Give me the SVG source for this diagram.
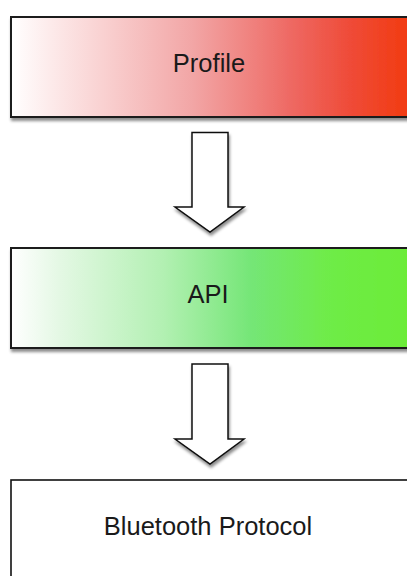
<svg xmlns="http://www.w3.org/2000/svg" width="407" height="576" viewBox="0 0 407 576">
  <defs>
    <linearGradient id="gRed" x1="0" y1="0" x2="1" y2="0">
      <stop offset="0" stop-color="#ffffff"/>
      <stop offset="0.1" stop-color="#fdeaea"/>
      <stop offset="0.45" stop-color="#f2a6a6"/>
      <stop offset="0.7" stop-color="#ee6862"/>
      <stop offset="0.85" stop-color="#ef4a36"/>
      <stop offset="1" stop-color="#f23a0e"/>
    </linearGradient>
    <linearGradient id="gGreen" x1="0" y1="0" x2="1" y2="0">
      <stop offset="0" stop-color="#ffffff"/>
      <stop offset="0.12" stop-color="#e4f8e4"/>
      <stop offset="0.38" stop-color="#b2f0b2"/>
      <stop offset="0.6" stop-color="#74e676"/>
      <stop offset="0.8" stop-color="#6eec46"/>
      <stop offset="1" stop-color="#6cec38"/>
    </linearGradient>
    <filter id="shadow" x="-10%" y="-20%" width="130%" height="150%">
      <feDropShadow dx="1" dy="3" stdDeviation="1.8" flood-color="#000" flood-opacity="0.45"/>
    </filter>
  </defs>
  <style>
    .box { stroke: #1a1a1a; stroke-width: 2; }
    .arrow { fill: #ffffff; stroke: #111; stroke-width: 1.5; stroke-linejoin: miter; }
    .label { font-family: "Liberation Sans", Arial, sans-serif; font-size: 25.5px; fill: #1a1a1a; text-anchor: middle; }
  </style>
  <rect width="407" height="576" fill="#ffffff"/>
  <g id="profile">
    <rect class="box" x="11" y="17" width="402" height="100" fill="url(#gRed)" filter="url(#shadow)"/>
    <text class="label" x="209" y="72">Profile</text>
  </g>
  <g id="api">
    <rect class="box" x="11" y="248" width="402" height="100" fill="url(#gGreen)" filter="url(#shadow)"/>
    <text class="label" x="208" y="303">API</text>
  </g>
  <g id="bluetooth">
    <rect x="11" y="480" width="402" height="110" fill="#ffffff" stroke="#111" stroke-width="1.6"/>
    <text class="label" x="208" y="535">Bluetooth Protocol</text>
  </g>
  <g id="connectors">
    <path class="arrow" filter="url(#shadow)" d="M192,132.5 H228 V207 H244 L210,232 L175,207 H192 Z"/>
    <path class="arrow" filter="url(#shadow)" d="M192,364 H228 V439 H244 L210,464 L175,439 H192 Z"/>
  </g>
</svg>
